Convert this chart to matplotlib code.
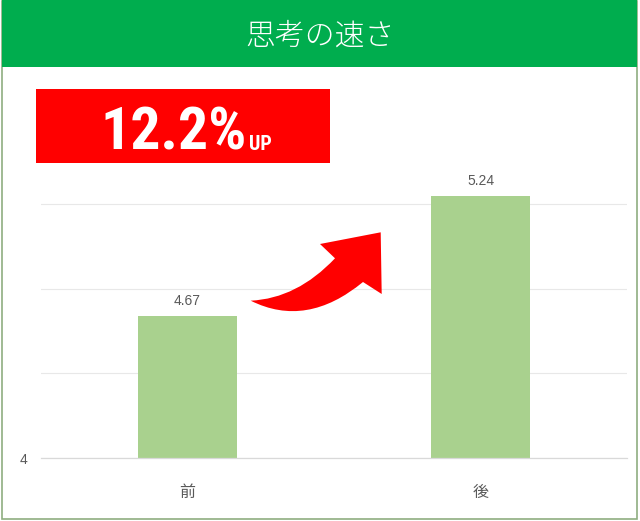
import matplotlib
matplotlib.use("Agg")
import matplotlib.pyplot as plt
import matplotlib.patches as mpatches
import matplotlib.transforms as mtrans
from matplotlib.path import Path
from matplotlib import font_manager

# ---- data ----
categories = ["前", "後"]
values = [4.67, 5.24]
value_labels = ["4.67", "5.24"]
ytick_values = [4, 4.4, 4.8, 5.2]
ytick_labels = ["4", "", "", ""]
title = "思考の速さ"
badge_main = "12.2%"
badge_sub = "UP"

plt.rcParams['font.family'] = ['Noto Sans CJK JP', 'DejaVu Sans']

# pick the narrowest available heavy font for the badge
available = {f.name for f in font_manager.fontManager.ttflist}
badge_font = 'Liberation Sans'
condensed = False
for cand in ['Roboto Condensed', 'Liberation Sans Narrow', 'DejaVu Sans Condensed',
             'Open Sans Condensed']:
    if cand in available:
        badge_font = cand
        condensed = True
        break

W, H = 640, 521
fig = plt.figure(figsize=(W / 100, H / 100), dpi=100)
fig.patch.set_facecolor("white")

# pixel transform (y downward) -> figure
pix = mtrans.Affine2D().scale(1 / W, -1 / H).translate(0, 1) + fig.transFigure

# outer border
fig.patches.append(mpatches.Rectangle((2, 1), 635, 518, transform=pix,
                                      facecolor="none", edgecolor="#8FAE80", lw=1.2, zorder=0))
# header band
fig.patches.append(mpatches.Rectangle((2, 0), 635, 67, transform=pix,
                                      facecolor="#00AD4E", edgecolor="none", zorder=1))
fig.text(320 / W, 1 - 36 / H, title, color="white", fontsize=21.5, ha="center", va="center",
         family=['Noto Sans CJK JP', 'DejaVu Sans'], fontweight='light')

# axes
ax = fig.add_axes([41 / W, 1 - 458 / H, 586 / W, (458 - 120) / H])
x = range(len(categories))
bars = ax.bar(x, values, width=0.335, color="#A9D18E", zorder=2)
ax.set_xlim(-0.5, 1.5)
ax.set_ylim(4, 5.6)
ax.set_yticks(ytick_values)
ax.set_yticklabels(ytick_labels)
ax.set_xticks(list(x))
ax.set_xticklabels(categories)
ax.grid(axis="y", color="#E8E8E8", lw=0.8, zorder=0)
for s in ["top", "right", "left"]:
    ax.spines[s].set_visible(False)
ax.spines["bottom"].set_color("#D9D9D9")
ax.spines["bottom"].set_linewidth(0.9)
ax.tick_params(axis="x", length=0, pad=19, labelsize=11.5, labelcolor="#595959")
ax.tick_params(axis="y", length=0, pad=10, labelsize=10, labelcolor="#595959")
for lbl in ax.get_yticklabels():
    lbl.set_family(['Liberation Sans', 'DejaVu Sans'])
for b, lab in zip(bars, value_labels):
    ax.annotate(lab, (b.get_x() + b.get_width() / 2, b.get_height() + b.get_y()),
                xytext=(0, 6), textcoords="offset points", ha="center", va="bottom",
                fontsize=10, color="#595959", family=['Liberation Sans', 'DejaVu Sans'])

# red badge
fig.patches.append(mpatches.Rectangle((36, 89), 294, 74, transform=pix,
                                      facecolor="#FF0000", edgecolor="none", zorder=3))
if condensed:
    main_size, sub_size, main_x = 43, 14.5, 100
else:
    main_size, sub_size, main_x = 40, 15.5, 88
t_main = fig.text(main_x / W, 1 - 150 / H, badge_main, color="white", fontsize=main_size,
                  fontweight="bold", ha="left", va="baseline",
                  family=[badge_font, 'DejaVu Sans'], zorder=4)
fig.canvas.draw()
bb = t_main.get_window_extent()
fig.text((bb.x1 + 3) / W, 1 - 150 / H, badge_sub, color="white", fontsize=sub_size,
         fontweight="bold", ha="left", va="baseline",
         family=[badge_font, 'DejaVu Sans'], zorder=4)

# curved red arrow
verts = [(250.7, 300.7), (306.5, 328.6), (363, 282), (381.7, 294), (380.7, 232.3),
         (320, 244), (335, 258.3), (297, 298.5), (250.7, 300.7), (250.7, 300.7)]
codes = [Path.MOVETO, Path.CURVE3, Path.CURVE3, Path.LINETO, Path.LINETO,
         Path.LINETO, Path.LINETO, Path.CURVE3, Path.CURVE3, Path.CLOSEPOLY]
fig.patches.append(mpatches.PathPatch(Path(verts, codes), transform=pix,
                                      facecolor="#FF0000", edgecolor="none", zorder=5))

fig.savefig("out.png", dpi=100)
